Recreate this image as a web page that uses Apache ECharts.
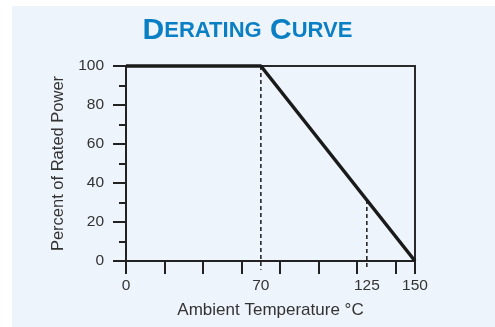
<!DOCTYPE html>
<html><head><meta charset="utf-8">
<script src="https://cdn.jsdelivr.net/npm/echarts@6/dist/echarts.min.js"></script>
<style>html,body{margin:0;padding:0;background:#fff}#c{width:495px;height:327px}</style>
</head><body><div id="c"></div>
<script>
const curveTemps = [0, 70, 150];
const curvePower = [100, 100, 0];
const guide70 = [[70, 100], [70, -4.5]];
const guide125 = [[125, 31.25], [125, -4.5]];
const xTickValues = [0, 20, 40, 60, 80, 100, 120, 140, 150];
const xLabelValues = [0, 70, 125, 150];
const titleParts = [['D', 'ERATING'], ['C', 'URVE']];

const chart = echarts.init(document.getElementById('c'));
const titleText = titleParts.map(p => '{b|' + p[0] + '}{s|' + p[1] + '}').join('{b| }');
chart.setOption({
  animation: false,
  graphic: [{type: 'rect', left: 12, top: 6, shape: {width: 483, height: 321}, style: {fill: '#eef4fb'}, z: -10}],
  title: {
    text: titleText, left: 'center', top: 11,
    textStyle: {rich: {
      b: {fontFamily: 'Liberation Sans', fontWeight: 'bold', fontSize: 30, color: '#0b7fc4'},
      s: {fontFamily: 'Liberation Sans', fontWeight: 'bold', fontSize: 22, color: '#0b7fc4'}
    }}
  },
  grid: {left: 126, right: 80, top: 66, bottom: 66, show: true, borderColor: '#2a2a2a', borderWidth: 2},
  xAxis: {
    type: 'value', min: 0, max: 150,
    name: 'Ambient Temperature °C', nameLocation: 'middle', nameGap: 41,
    nameTextStyle: {fontFamily: 'Liberation Sans', fontSize: 17, color: '#333'},
    axisLine: {lineStyle: {color: '#222', width: 2}},
    axisTick: {show: true, length: 13, customValues: xTickValues, lineStyle: {color: '#222', width: 2}},
    axisLabel: {customValues: xLabelValues, margin: 17, fontFamily: 'Liberation Sans', fontSize: 15.5, color: '#333'},
    splitLine: {show: false}
  },
  yAxis: {
    type: 'value', min: 0, max: 100, interval: 20,
    name: 'Percent of Rated Power', nameLocation: 'middle', nameGap: 57,
    nameTextStyle: {fontFamily: 'Liberation Sans', fontSize: 16.5, color: '#333'},
    axisLine: {show: true, lineStyle: {color: '#222', width: 2}},
    axisTick: {show: true, length: 13, lineStyle: {color: '#222', width: 2}},
    minorTick: {show: true, splitNumber: 2, length: 7, lineStyle: {color: '#222', width: 2}},
    axisLabel: {margin: 22, fontFamily: 'Liberation Sans', fontSize: 15.5, color: '#333'},
    splitLine: {show: false}
  },
  series: [
    {type: 'line', data: curveTemps.map((t, i) => [t, curvePower[i]]), symbol: 'none',
     lineStyle: {color: '#1a1a1a', width: 3.5}, clip: false, z: 5},
    {type: 'line', data: guide70, symbol: 'none', clip: false,
     lineStyle: {color: '#1a1a1a', width: 1.5, type: [4, 3]}},
    {type: 'line', data: guide125, symbol: 'none', clip: false,
     lineStyle: {color: '#1a1a1a', width: 1.5, type: [4, 3]}}
  ]
});
</script></body></html>
